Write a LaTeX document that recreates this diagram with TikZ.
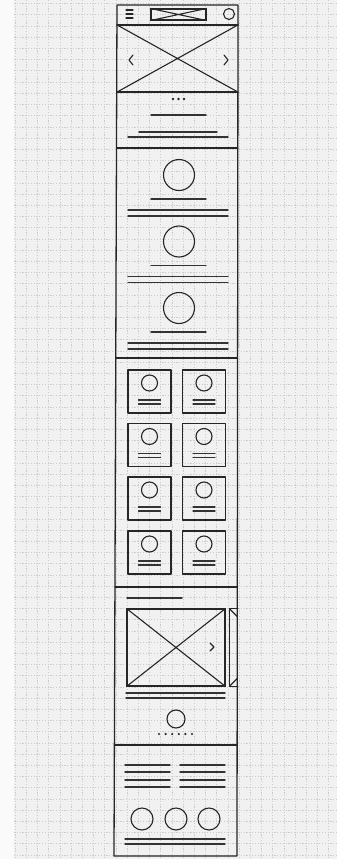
\documentclass[tikz,border=0pt]{standalone}
\usetikzlibrary{positioning, calc}
\begin{document}
\begin{tikzpicture}[
    x=1pt, y=-1pt,
    pen/.style={draw=black!85, line width=1.1pt, line cap=round, line join=round},
    textline/.style={draw=black!80, line width=1.4pt, line cap=round},
    gridline/.style={draw=gray!40, line width=0.4pt, dash pattern=on 1.2pt off 1.6pt},
    photo/.style={rectangle, pen, inner sep=0pt},
    avatar/.style={circle, pen, inner sep=0pt, minimum size=#1},
    card/.style={rectangle, pen, inner sep=0pt, minimum size=43pt},
    dot/.style={circle, fill=black!85, inner sep=0pt, minimum size=#1}
]
\useasboundingbox (0,0) rectangle (337,859);
\fill[gray!4] (0,0) rectangle (337,859);
\fill[gray!11] (14,0) rectangle (337,859);
\foreach \gx in {15,26.2,...,337} \draw[gridline] (\gx,0) -- (\gx,859);
\foreach \gy in {3.5,14.7,...,859} \draw[gridline] (14,\gy) -- (337,\gy);

\draw[pen, line width=1.3pt] (117,5) -- (238,5) -- (237,856) -- (114,856) -- cycle;
\foreach \sy in {25,92,148,358,587,745}
    \draw[pen] ({117-0.0035*(\sy-5)},\sy) -- ({238-0.0012*(\sy-5)},\sy);

\foreach \hy in {10,14,18} \draw[pen] (126,\hy) -- (133,\hy);
\node[photo, minimum width=55pt, minimum height=11pt] (logo) at (178.5,14.5) {};
\draw[pen] (logo.north west) -- (logo.south east) (logo.south west) -- (logo.north east);
\node[avatar=11pt] (profile) at (229,14) {};

\node[inner sep=0pt, minimum width=121pt, minimum height=67pt] (hero) at (177.5,58.5) {};
\draw[pen] (hero.north west) -- (hero.south east) (hero.south west) -- (hero.north east);
\draw[pen] (133,55) -- (129,60) -- (133,65);
\draw[pen] (224,55) -- (228,60) -- (224,65);
\foreach \dx [count=\i] in {173,178.5,184} \node[dot=2.8pt] (slide\i) at (\dx,99) {};
\draw[textline] (151,115) -- (206,115);
\draw[textline] (139,132) -- (217,132);
\draw[textline] (128,137) -- (228,137);

\foreach \cy [count=\i] in {175,241.5,308} {
    \node[avatar=31pt] (feature\i) at (179,\cy) {};
    \draw[textline] (151,{\cy+24}) -- (206,{\cy+24});
    \draw[textline] (128,{\cy+35}) -- (228,{\cy+35});
    \draw[textline] (128,{\cy+41}) -- (228,{\cy+41});
}

\foreach \ry [count=\r] in {370,423.5,477,531}
    \foreach \cx [count=\c] in {149.5,204} {
        \node[card] (card\r\c) at (\cx,{\ry+21.5}) {};
        \node[avatar=16pt] (face\r\c) at (\cx,{\ry+13}) {};
        \draw[textline, line width=1.2pt] ({\cx-11},{\ry+30}) -- ({\cx+11},{\ry+30});
        \draw[textline, line width=1.2pt] ({\cx-11},{\ry+34}) -- ({\cx+11},{\ry+34});
    }

\draw[textline] (127,598) -- (182,598);
\node[photo, minimum width=98pt, minimum height=77pt] (gallery) at (176,647.5) {};
\draw[pen] (gallery.north west) -- (gallery.south east) (gallery.south west) -- (gallery.north east);
\draw[pen] (210,643) -- (214,647) -- (210,651);
\node[inner sep=0pt, minimum width=8pt, minimum height=77pt, right=4pt of gallery] (next) {};
\draw[pen] (next.north east) -- (next.north west) -- (next.south west) -- (next.south east);
\draw[pen] (next.north west) -- ++(8,8) (next.south west) -- ++(8,-8);
\draw[textline] (126,693) -- (225,693);
\draw[textline] (126,698) -- (225,698);
\node[avatar=18pt] (author) at (176,719) {};
\foreach \dx [count=\i] in {159,165.6,...,192.5} \node[dot=2.4pt] (page\i) at (\dx,734) {};

\foreach \lx in {125,180}
    \foreach \ly in {765,772,780,787}
        \draw[textline] (\lx,\ly) -- ({\lx+45},\ly);
\foreach \fx [count=\i] in {142,176,209} \node[avatar=22pt] (social\i) at (\fx,819) {};
\draw[textline] (125,839) -- (225,839);
\draw[textline] (125,844) -- (225,844);
\end{tikzpicture}
\end{document}
